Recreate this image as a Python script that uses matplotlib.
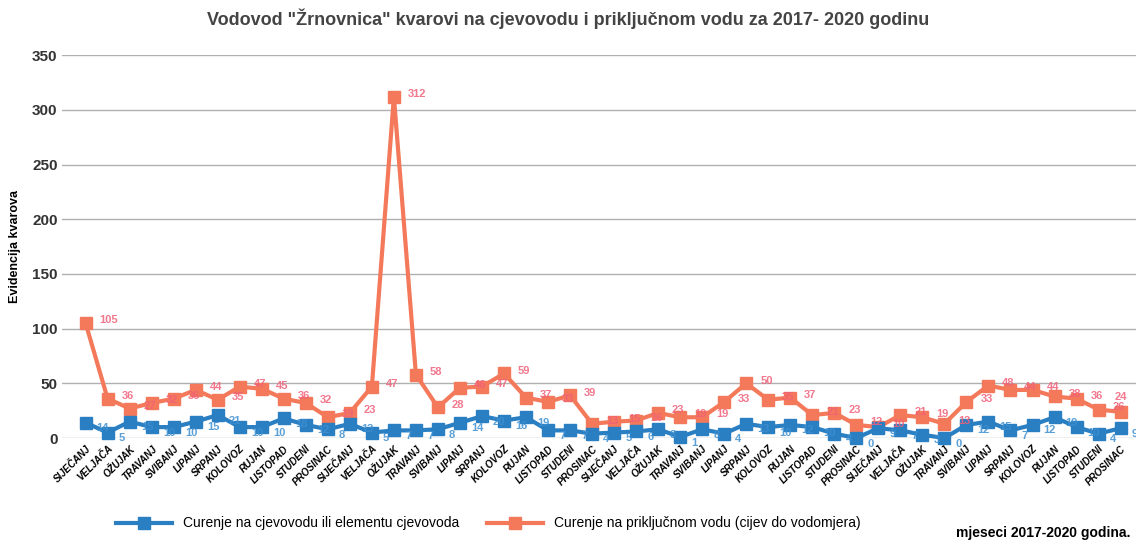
import matplotlib
matplotlib.use("Agg")
import matplotlib.pyplot as plt

plt.rcParams['font.family'] = ['Liberation Sans Narrow', 'Liberation Sans', 'DejaVu Sans']

months = ['SIJEČANJ', 'VELJAČA', 'OŽUJAK', 'TRAVANJ', 'SVIBANJ', 'LIPANJ',
          'SRPANJ', 'KOLOVOZ', 'RUJAN', 'LISTOPAD', 'STUDENI', 'PROSINAC']
labels = months * 4

# Curenje na cjevovodu ili elementu cjevovoda (2017-2020)
cjevovod = [14, 5, 15, 10, 10, 15, 21, 10, 10, 18, 12, 8,
            13, 5, 7, 7, 8, 14, 20, 16, 19, 7, 7, 4,
            5, 6, 8, 1, 8, 4, 13, 10, 12, 10, 4, 0,
            9, 7, 3, 0, 12, 15, 7, 12, 19, 10, 4, 9]

# Curenje na prikljucnom vodu (cijev do vodomjera)
prikljucak = [105, 36, 27, 32, 36, 44, 35, 47, 45, 36, 32, 19,
              23, 47, 312, 58, 28, 46, 47, 59, 37, 33, 39, 13,
              15, 16, 23, 19, 19, 33, 50, 35, 37, 21, 23, 12,
              10, 21, 19, 13, 33, 48, 44, 44, 38, 36, 26, 24]

blue = '#2a7fc3'
orange = '#f4795a'

fig = plt.figure(figsize=(11.36, 5.51), dpi=100)
ax = fig.add_axes([0.055, 0.205, 0.945, 0.695])

x = list(range(len(labels)))
ax.plot(x, cjevovod, color=blue, lw=3, marker='s', ms=8, clip_on=False,
        label='Curenje na cjevovodu ili elementu cjevovoda', zorder=3)
ax.plot(x, prikljucak, color=orange, lw=3, marker='s', ms=8, clip_on=False,
        label='Curenje na priključnom vodu (cijev do vodomjera)', zorder=2)

last = len(x) - 1
for i in x:
    if i == last:
        off_o, ha = (0, 11), 'center'
    else:
        off_o, ha = (10, 2), 'left'
    ax.annotate(str(prikljucak[i]), (i, prikljucak[i]), xytext=off_o,
                textcoords='offset points', color='#f0607a', fontsize=8,
                fontweight='bold', ha=ha, va='center', alpha=0.85)
    ax.annotate(str(cjevovod[i]), (i, cjevovod[i]), xytext=(8, -4),
                textcoords='offset points', color='#3d8fd0', fontsize=8,
                fontweight='bold', ha='left', va='center', alpha=0.85)

ax.set_ylim(0, 350)
ax.set_xlim(-1.05, 47.7)
ax.set_yticks(range(0, 351, 50))
ax.tick_params(axis='y', length=0, labelsize=11)
for t in ax.get_yticklabels():
    t.set_fontweight('bold')
    t.set_color('#333333')
ax.set_xticks(x)
ax.set_xticklabels(labels, rotation=45, ha='right', rotation_mode='anchor',
                   fontsize=7, fontweight='bold', style='italic')
ax.tick_params(axis='x', length=0, pad=4)
ax.grid(axis='y', color='#b0b0b0', lw=1)
ax.set_axisbelow(True)
for s in ax.spines.values():
    s.set_visible(False)

ax.set_ylabel('Evidencija kvarova', fontsize=9, fontweight='bold', labelpad=8)
fig.suptitle('Vodovod "Žrnovnica" kvarovi na cjevovodu i priključnom vodu za 2017- 2020 godinu',
             fontsize=13, fontweight='bold', color='#444444', y=0.985)

fig.legend(loc='center', bbox_to_anchor=(0.43, 0.05), ncol=2, frameon=False,
           fontsize=10, handlelength=4, columnspacing=2)
fig.text(0.995, 0.025, 'mjeseci 2017-2020 godina.', ha='right', fontsize=10,
         fontweight='bold')

fig.savefig('out.png', dpi=100)
